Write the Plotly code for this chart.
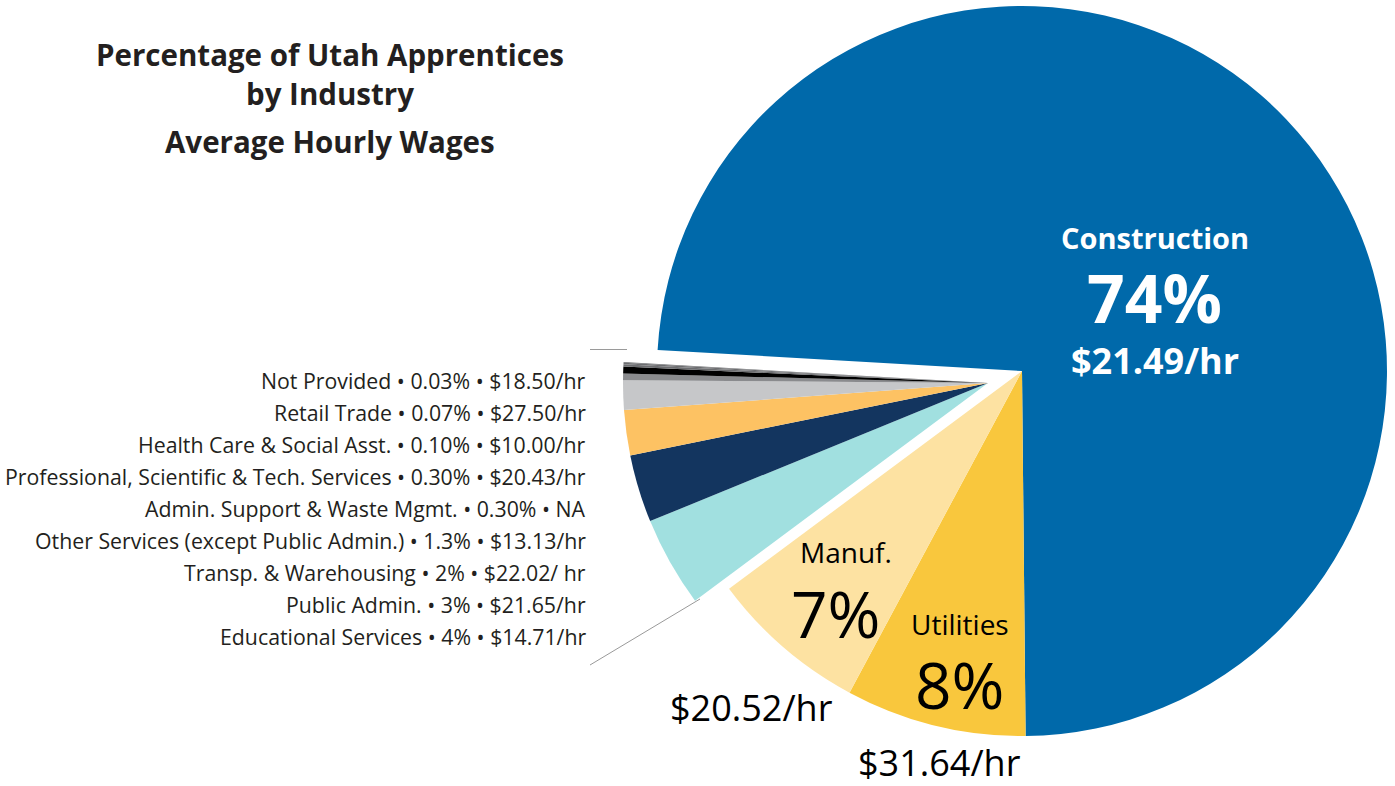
import plotly.graph_objects as go

W, H = 1395, 786

# ---- data ----
industries = ["Construction", "Utilities", "Manuf.", "Educational Services", "Public Admin.",
              "Transp. & Warehousing", "Other Services (except Public Admin.)",
              "Admin. Support & Waste Mgmt.", "Professional, Scientific & Tech. Services",
              "Health Care & Social Asst.", "Retail Trade", "Not Provided"]
shares = [74, 8, 7, 4, 3, 2, 1.3, 0.30, 0.30, 0.10, 0.07, 0.03]
share_labels = ["74%", "8%", "7%", "4%", "3%", "2%", "1.3%", "0.30%", "0.30%", "0.10%", "0.07%", "0.03%"]
wages = ["$21.49/hr", "$31.64/hr", "$20.52/hr", "$14.71/hr", "$21.65/hr", "$22.02/ hr",
         "$13.13/hr", "NA", "$20.43/hr", "$10.00/hr", "$27.50/hr", "$18.50/hr"]
colors = ["#0069AA", "#F9C73D", "#FDE2A2", "#A1E0E0", "#13355F", "#FDC263", "#C6C7C9",
          "#8A8B8E", "#000000", "#6D6E71", "#6D6E71", "#6D6E71"]
main_group = [True, True, True] + [False] * 9

TXT = "#231F20"
FONT = "Open Sans"


def px(x):
    return x / W


def py(y):
    return 1 - y / H


def dom(cx, cy, r):
    return dict(x=[px(cx - r), px(cx + r)], y=[py(cy + r), py(cy - r)])


R = 365
main_colors = [c if g else "rgba(0,0,0,0)" for c, g in zip(colors, main_group)]
small_colors = ["rgba(0,0,0,0)" if g else c for c, g in zip(colors, main_group)]

fig = go.Figure()
common = dict(labels=industries, values=shares, sort=False, direction="clockwise",
              rotation=-86.7, textinfo="none", hoverinfo="skip", showlegend=False)
fig.add_trace(go.Pie(domain=dom(1022, 371, R), marker=dict(colors=main_colors, line=dict(width=0)), **common))
fig.add_trace(go.Pie(domain=dom(988, 383, R), marker=dict(colors=small_colors, line=dict(width=0)), **common))

ann = []
# title
for txt, y in [("Percentage of Utah Apprentices", 55), ("by Industry", 93), ("Average Hourly Wages", 141)]:
    ann.append(dict(text="<b>%s</b>" % txt, x=px(330), y=py(y), xanchor="center", yanchor="middle",
                    font=dict(size=29.5, color=TXT, family=FONT)))

# list of small industries (bottom to top)
small_idx = [i for i, g in enumerate(main_group) if not g]
y0 = 636
for k, i in enumerate(small_idx):
    ann.append(dict(text="%s • %s • %s" % (industries[i], share_labels[i], wages[i]),
                    x=px(588), y=py(y0 - 32 * k), xanchor="right", yanchor="middle",
                    font=dict(size=21.3, color=TXT, family=FONT)))

ann += [
    dict(text="<b>%s</b>" % industries[0], x=px(1155), y=py(237), font=dict(size=29, color="white", family=FONT)),
    dict(text="<b>%s</b>" % share_labels[0], x=px(1154), y=py(297), font=dict(size=66, color="white", family=FONT)),
    dict(text="<b>%s</b>" % wages[0], x=px(1155), y=py(360), font=dict(size=36, color="white", family=FONT)),
    dict(text=industries[2], x=px(846), y=py(552), font=dict(size=28, color="black", family=FONT)),
    dict(text=share_labels[2], x=px(836), y=py(613), font=dict(size=64, color="black", family=FONT)),
    dict(text=industries[1], x=px(960), y=py(624), font=dict(size=28, color="black", family=FONT)),
    dict(text=share_labels[1], x=px(960), y=py(684), font=dict(size=64, color="black", family=FONT)),
    dict(text=wages[2], x=px(752), y=py(707), font=dict(size=36, color="black", family=FONT)),
    dict(text=wages[1], x=px(939), y=py(762), font=dict(size=36, color="black", family=FONT)),
]
for a in ann:
    a.setdefault("xref", "paper")
    a.setdefault("yref", "paper")
    a.setdefault("showarrow", False)
    a.setdefault("xanchor", "center")
    a.setdefault("yanchor", "middle")

shapes = [
    dict(type="line", xref="paper", yref="paper", x0=px(590), y0=py(349.5), x1=px(627), y1=py(349.5),
         line=dict(color="#9A9A9A", width=1)),
    dict(type="line", xref="paper", yref="paper", x0=px(590), y0=py(665), x1=px(700), y1=py(599),
         line=dict(color="#9A9A9A", width=1)),
]

fig.update_layout(width=W, height=H, margin=dict(l=0, r=0, t=0, b=0),
                  paper_bgcolor="white", plot_bgcolor="white",
                  annotations=ann, shapes=shapes, font=dict(family=FONT))
fig.write_html("out.html", config={"displayModeBar": False},
               post_script="document.body.style.margin='0px';")
